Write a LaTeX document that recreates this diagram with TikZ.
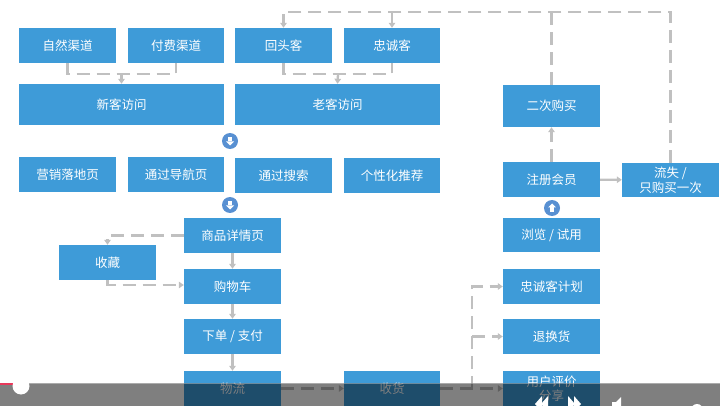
\documentclass[tikz,border=0pt]{standalone}
\usepackage{fontspec}
\setmainfont{Noto Sans CJK SC}
\usetikzlibrary{arrows.meta}
\definecolor{boxblue}{RGB}{62,155,216}
\definecolor{circblue}{RGB}{88,144,210}
\definecolor{linegray}{RGB}{192,192,192}
\definecolor{barred}{RGB}{232,56,90}
\tikzset{
  box/.style={fill=boxblue, text=white, inner sep=0pt, minimum width=97pt, minimum height=35pt,
    font=\fontsize{12.5}{15}\selectfont, align=center},
  dline/.style={draw=linegray, line width=2.3pt, dash pattern=on 13pt off 7pt},
  sline/.style={draw=linegray, line width=2.3pt},
  tip/.style={-{Triangle[width=6.5pt,length=5pt]}},
  circ/.style={circle, fill=circblue, minimum size=16pt, inner sep=0pt},
}
\begin{document}
\begin{tikzpicture}[x=1pt,y=-1pt]
\useasboundingbox (0,0) rectangle (720,406);
\begin{scope}
\clip (0,0) rectangle (720,406);
% row 1
\node[box] (ziran) at (67.5,45.5) {自然渠道};
\node[box, minimum width=96pt] (fufei) at (176,45.5) {付费渠道};
\node[box] (huitou) at (283.5,45.5) {回头客};
\node[box, minimum width=96pt] (zhong) at (392,45.5) {忠诚客};
% row 2
\node[box, minimum width=205pt, minimum height=41pt] (xinke) at (121.5,104.5) {新客访问};
\node[box, minimum width=205pt, minimum height=41pt] (laoke) at (337.5,104.5) {老客访问};
% row 3
\node[box] (yingxiao) at (67.5,174.5) {营销落地页};
\node[box, minimum width=96pt] (daohang) at (176,174.5) {通过导航页};
\node[box] (sousuo) at (283.5,176) {通过搜索};
\node[box, minimum width=96pt] (gexing) at (392,176) {个性化推荐};
% flow
\node[box] (xiangqing) at (232.5,235.5) {商品详情页};
\node[box] (shoucang) at (107.5,262.5) {收藏};
\node[box] (gouwu) at (232.5,286.5) {购物车};
\node[box] (xiadan) at (232.5,336.5) {下单 / 支付};
\node[box] (wuliu) at (232.5,388.5) {物流};
\node[box, minimum width=96pt] (shouhuo) at (392,388.5) {收货};
\node[box, font=\fontsize{12.5}{14}\selectfont] (pingjia) at (551.5,388.5) {用户评价\\分享};
% right column
\node[box, minimum height=42pt] (erci) at (551.5,106) {二次购买};
\node[box] (zhuce) at (551.5,179.5) {注册会员};
\node[box, minimum height=34pt, font=\fontsize{12.5}{15}\selectfont] (liushi) at (670.5,180) {流失 /\\只购买一次};
\node[box, minimum height=34pt] (liulan) at (551.5,235) {浏览 / 试用};
\node[box] (zcjh) at (551.5,286.5) {忠诚客计划};
\node[box] (tuihuan) at (551.5,336.5) {退换货};
% circles
\node[circ] (c1) at (230,141) {};
\node[circ] (c2) at (230,205) {};
\node[circ] (c3) at (552,208) {};
\foreach \c in {c1,c2}{
  \fill[white] ([xshift=-1.6pt,yshift=4pt]\c.center) rectangle ([xshift=1.6pt,yshift=-0.5pt]\c.center);
  \fill[white] ([xshift=-4pt,yshift=-0.5pt]\c.center) -- ([xshift=4pt,yshift=-0.5pt]\c.center) -- ([yshift=-4.5pt]\c.center) -- cycle;
}
\fill[white] ([xshift=-1.6pt,yshift=-4pt]c3.center) rectangle ([xshift=1.6pt,yshift=0.5pt]c3.center);
\fill[white] ([xshift=-4pt,yshift=0.5pt]c3.center) -- ([xshift=4pt,yshift=0.5pt]c3.center) -- ([yshift=4.5pt]c3.center) -- cycle;
% coordinates
\coordinate (j1) at (121.5,74);
\coordinate (j2) at (338,74);
\coordinate (topR) at (671,12);
\coordinate (bus) at (472,389);
% connectors row 1 -> row 2
\draw[dline] (ziran.south) |- (j1) -| (fufei.south);
\draw[sline, tip] (j1) -- (xinke.north);
\draw[dline] (huitou.south) |- (j2) -| (zhong.south);
\draw[sline, tip] (j2) -- (laoke.north);
% top loop
\draw[dline, tip] (liushi.north) |- (huitou.north |- topR) -- (huitou.north);
\draw[dline, tip] (zhong.north |- topR) -- (zhong.north);
\draw[dline] (erci.north) -- (erci.north |- topR);
% flow
\draw[dline, tip] (xiangqing.west) -| (shoucang.north);
\draw[dline, tip] (shoucang.south) |- ([yshift=1.5pt]gouwu.west);
\draw[sline, tip] (xiangqing) -- (gouwu);
\draw[sline, tip] (gouwu) -- (xiadan);
\draw[sline, tip] (xiadan) -- (wuliu);
\draw[dline, tip] (wuliu) -- (shouhuo);
\draw[dline, tip] (shouhuo) -- (pingjia);
\draw[dline, tip] (bus) |- (zcjh.west);
\draw[dline, tip] (bus |- tuihuan.west) -- (tuihuan.west);
% right column
\draw[dline, tip] (zhuce) -- (erci);
\draw[sline, tip] (zhuce) -- (liushi);
% video overlay
\fill[black, opacity=0.5] (0,383) rectangle (720,406);
\draw[white, opacity=0.35, line width=0.8pt] (0,383.4) -- (720,383.4);
\draw[barred, line width=2pt] (0,384) -- (14,384);
\fill[white] (21,386) circle (8.5);
% player icons
\fill[white] (548,396) -- (541,404) -- (548,412) -- cycle;
\fill[white] (542,396) -- (535,404) -- (542,412) -- cycle;
\fill[white] (568,396) -- (575,404) -- (568,412) -- cycle;
\fill[white] (574,396) -- (581,404) -- (574,412) -- cycle;
\fill[white] (612,402) rectangle (616,408);
\fill[white] (616,402) -- (621,397) -- (621,412) -- (616,408) -- cycle;
\fill[white] (697,410) circle (6);
\end{scope}
\end{tikzpicture}
\end{document}
